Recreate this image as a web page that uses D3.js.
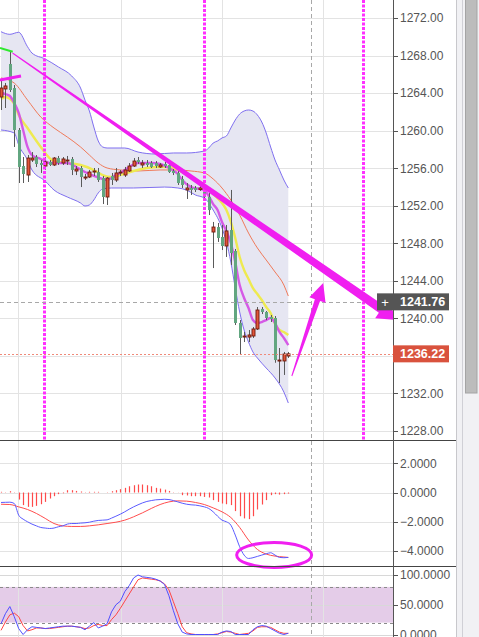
<!DOCTYPE html>
<html><head><meta charset="utf-8">
<script src="https://cdn.jsdelivr.net/npm/d3@7"></script>
<style>html,body{margin:0;padding:0;background:#fff;overflow:hidden}svg{display:block}</style>
</head><body>
<svg id="c" width="479" height="637"></svg>
<script>
// ---------- DATA ----------
const opens  = [1263.58,1264.44,1267.10,1264.54,1260.07,1256.23,1255.27,1256.87,1257.19,1256.55,1256.23,1256.66,1256.34,1257.08,1256.55,1256.82,1256.98,1255.70,1256.02,1254.95,1255.06,1255.59,1255.59,1254.95,1252.93,1255.17,1254.74,1255.49,1255.27,1255.70,1256.23,1256.87,1256.34,1256.55,1256.55,1256.55,1256.13,1256.45,1256.34,1255.70,1255.49,1254.85,1253.68,1253.89,1253.89,1253.73,1253.68,1252.93,1249.20,1249.73,1248.67,1247.71,1249.41,1247.18,1239.51,1238.01,1238.01,1238.12,1238.87,1241.00,1240.68,1240.14,1240.04,1235.46,1235.46,1235.99];
const highs  = [1265.39,1265.08,1268.38,1264.86,1260.28,1257.19,1257.40,1257.72,1257.40,1256.87,1257.19,1256.87,1257.19,1257.30,1257.19,1257.30,1257.19,1256.23,1256.23,1255.38,1255.81,1256.02,1256.02,1255.17,1255.06,1255.49,1256.02,1255.81,1256.13,1256.55,1257.08,1257.19,1256.87,1256.87,1256.76,1256.76,1256.55,1256.66,1256.55,1255.91,1255.70,1255.17,1254.42,1254.21,1254.10,1254.10,1254.21,1253.35,1250.27,1250.16,1249.95,1249.95,1253.68,1247.39,1239.82,1238.55,1238.76,1239.08,1241.21,1241.21,1240.78,1240.36,1240.25,1236.84,1236.42,1236.42];
const lows   = [1262.20,1262.41,1264.12,1258.26,1254.42,1254.42,1254.53,1256.66,1256.13,1255.49,1255.81,1256.23,1256.23,1256.34,1256.34,1256.34,1255.27,1255.27,1253.99,1254.74,1254.95,1255.17,1254.53,1252.18,1252.08,1254.21,1254.53,1255.17,1255.06,1255.59,1256.13,1256.45,1256.02,1256.13,1256.02,1256.02,1256.02,1256.02,1255.49,1255.27,1254.21,1253.89,1252.72,1253.14,1253.46,1253.57,1252.61,1251.01,1245.36,1248.14,1247.28,1246.54,1245.68,1239.29,1236.10,1237.48,1237.48,1237.91,1238.76,1240.46,1239.82,1239.61,1235.27,1233.11,1233.97,1235.78];
const closes = [1264.54,1264.76,1264.33,1260.07,1256.13,1255.38,1257.08,1257.08,1256.45,1256.34,1256.66,1256.34,1257.08,1256.55,1256.98,1256.87,1255.81,1255.91,1255.06,1255.06,1255.59,1255.70,1254.74,1252.93,1254.95,1254.74,1255.49,1255.59,1255.81,1256.23,1256.76,1256.66,1256.55,1256.34,1256.13,1256.23,1256.34,1256.23,1255.59,1255.49,1254.42,1254.21,1253.89,1253.68,1253.68,1253.89,1252.93,1251.54,1249.73,1248.56,1247.71,1249.31,1246.96,1239.51,1237.91,1238.12,1238.23,1238.87,1240.89,1240.68,1240.04,1239.93,1235.56,1235.56,1236.20,1236.22];

// overlay lines: [bar index, price]
const bbUpper = [[0,1270.54],[2,1270.26],[4,1270.48],[6,1268.94],[7,1268.27],[10,1267.63],[13,1266.78],[16,1265.82],[18,1264.54],[19,1263.26],[20,1262.09],[21,1260.39],[22,1258.90],[23,1258.26],[24,1258.15],[28,1258.15],[31,1257.72],[35,1257.51],[39,1257.62],[42,1257.62],[46,1257.83],[47,1258.15],[48,1258.68],[49,1258.90],[50,1259.22],[51,1259.43],[52,1260.28],[53,1261.13],[54,1261.77],[55,1262.09],[56,1262.20],[57,1262.09],[58,1261.67],[59,1260.92],[60,1259.75],[61,1258.26],[62,1256.87],[63,1255.81],[64,1254.74],[65,1253.89]];
const bbLower = [[0,1260.07],[3,1259.75],[4,1258.47],[6,1256.87],[7,1255.81],[10,1254.63],[12,1253.67],[15,1252.93],[18,1252.29],[19,1251.97],[20,1252.08],[21,1252.61],[22,1253.36],[23,1253.78],[25,1253.89],[30,1253.89],[37,1253.99],[40,1253.89],[42,1253.67],[44,1253.14],[46,1252.82],[48,1251.54],[50,1249.63],[51,1248.14],[52,1246.00],[53,1243.23],[54,1240.68],[55,1238.76],[56,1237.48],[57,1236.42],[58,1235.78],[60,1234.71],[62,1233.65],[64,1232.15],[65,1230.98]];
const bbMid = [[0,1265.61],[3,1265.07],[6,1263.26],[9,1261.45],[12,1260.28],[15,1259.32],[18,1258.26],[20,1257.40],[22,1256.55],[24,1256.02],[27,1255.81],[31,1255.70],[36,1255.81],[40,1255.81],[43,1255.70],[46,1255.49],[48,1254.85],[50,1253.89],[52,1252.61],[54,1251.01],[56,1249.09],[58,1247.50],[60,1246.22],[62,1244.94],[64,1243.55],[65,1242.38]];
const ma10 = [[0,1263.37],[1,1263.58],[3,1262.84],[4,1261.67],[6,1260.28],[9,1258.26],[11,1257.08],[12,1256.76],[15,1256.55],[18,1256.34],[21,1255.81],[23,1255.27],[25,1255.06],[27,1255.27],[30,1255.70],[33,1256.02],[36,1256.13],[38,1256.13],[40,1255.81],[43,1255.06],[46,1254.21],[48,1253.25],[50,1252.29],[51,1251.54],[52,1250.27],[53,1248.56],[54,1246.54],[55,1245.15],[56,1244.19],[57,1243.23],[58,1242.59],[59,1241.96],[60,1241.21],[61,1240.57],[62,1239.40],[63,1238.76],[64,1238.55],[65,1238.23]];
const ma5 = [[0,1264.01],[1,1263.90],[2,1263.69],[3,1262.94],[4,1261.88],[5,1260.07],[6,1258.26],[7,1257.40],[9,1256.98],[11,1256.55],[15,1256.55],[17,1256.13],[19,1255.59],[21,1255.17],[23,1254.85],[24,1254.74],[25,1254.95],[26,1255.27],[27,1255.49],[29,1256.13],[31,1256.55],[34,1256.55],[36,1256.45],[38,1256.02],[40,1255.38],[41,1254.74],[43,1253.99],[45,1253.78],[46,1253.67],[47,1253.04],[48,1252.18],[49,1251.54],[50,1250.27],[51,1249.31],[52,1248.03],[53,1246.00],[54,1243.55],[55,1242.17],[56,1241.10],[57,1239.82],[58,1239.50],[59,1239.61],[60,1239.82],[61,1240.04],[62,1239.50],[63,1238.55],[64,1237.91],[65,1237.16]];

const macdHist = [0.05,0.02,0.09,0.02,-0.48,-0.86,-0.98,-0.98,-0.91,-0.80,-0.64,-0.41,-0.25,-0.11,-0.05,0.16,0.16,0.11,0.07,0.02,0.05,0.05,0.05,0.00,0.02,0.09,0.16,0.23,0.32,0.43,0.50,0.55,0.55,0.50,0.43,0.32,0.27,0.20,0.11,0.02,-0.01,-0.18,-0.20,-0.25,-0.25,-0.25,-0.30,-0.34,-0.52,-0.64,-0.75,-0.80,-0.86,-1.27,-1.62,-1.77,-1.82,-1.62,-1.16,-0.82,-0.52,-0.18,-0.11,-0.14,-0.11,-0.07];
const macdLine = [-0.68,-0.67,-0.66,-0.75,-1.55,-1.82,-2.00,-2.16,-2.28,-2.39,-2.43,-2.46,-2.43,-2.34,-2.28,-2.16,-2.12,-2.12,-2.09,-2.07,-2.03,-1.96,-1.91,-1.89,-1.87,-1.75,-1.62,-1.48,-1.32,-1.14,-0.98,-0.84,-0.71,-0.61,-0.55,-0.50,-0.48,-0.46,-0.48,-0.55,-0.64,-0.73,-0.80,-0.84,-0.86,-0.91,-0.98,-1.09,-1.32,-1.62,-1.89,-2.00,-2.23,-2.91,-3.71,-4.28,-4.51,-4.46,-4.37,-4.28,-4.19,-4.12,-4.28,-4.44,-4.46,-4.44];
const macdSignal = [[0,-0.80],[2,-0.82],[4,-0.98],[6,-1.16],[8,-1.43],[10,-1.77],[12,-2.12],[14,-2.28],[16,-2.32],[18,-2.32],[20,-2.28],[22,-2.21],[24,-2.12],[26,-2.03],[28,-1.89],[30,-1.66],[32,-1.39],[34,-1.09],[36,-0.82],[38,-0.64],[40,-0.57],[42,-0.59],[44,-0.68],[46,-0.82],[48,-1.05],[50,-1.32],[52,-1.71],[54,-2.39],[56,-3.25],[58,-3.89],[60,-4.21],[62,-4.35],[64,-4.41],[65,-4.44]];

const stochK = [18,35,47,30,10,0,8,13,12,11,10,11,12,13,14,14,14,13,12,8,14,20,11,14,18,38,50,56,72,82,95,100,97,96,95,93,90,84,65,40,18,4,1,0,0,0,0,0,0,0,4,6,5,0,0,0,0,8,13,15,14,10,6,2,0,2];
const stochD = [7,21,33,36,30,15,6,8,11,11,10,10,11,12,13,14,14,13,12,10,11,15,17,15,15,25,33,44,56,68,80,92,95,94,93,92,90,85,75,55,35,13,3,1,0,0,0,0,0,1,3,5,4,2,0,1,2,6,12,13,13,12,8,4,2,2];

const priceTicks = [1228,1232,1236,1240,1244,1248,1252,1256,1260,1264,1268,1272];
const macdTicks = [-4,-2,0,2];
const stochTicks = [0,50,100];
const stochBand = [20,80];
const timeGrid = [3.85,27.05,50,72.9];
const markerLines = [9.75,45.9,81.9];
const crossIdx = 70.1, crossPrice = 1241.76, lastPrice = 1236.22;
const arrow1 = [[2.6,1268.27],[89.6,1239.83]];
const arrow2 = [[65.8,1233.86],[72.9,1243.77]];
const greenSeg = [[-0.23,1268.80],[2.65,1268.41]];
const pinkSeg = [[-0.23,1265.39],[4.52,1265.82]];
const ellipseAt = [61.8,-4.27];

// ---------- SCALES ----------
const svg = d3.select('#c');
const AX = 393;
const x  = d3.scaleLinear().domain([0,65]).range([1,288.3]);
const yP = d3.scaleLinear().domain([1228,1272]).range([431,18]);
const yM = d3.scaleLinear().domain([-4,2]).range([551,463.3]);
const yS = d3.scaleLinear().domain([0,100]).range([634.5,575]);
const FONT = '"Liberation Sans", Arial, sans-serif';

svg.append('rect').attr('width',479).attr('height',637).attr('fill','#fff');

const defs = svg.append('defs');
defs.append('clipPath').attr('id','cm').append('rect').attr('x',0).attr('y',0).attr('width',AX).attr('height',440);
defs.append('clipPath').attr('id','cd').append('rect').attr('x',0).attr('y',441).attr('width',AX).attr('height',125);
defs.append('clipPath').attr('id','cs').append('rect').attr('x',0).attr('y',567).attr('width',AX).attr('height',70);

// ---------- GRID ----------
const g = svg.append('g');
g.append('rect').attr('x',0).attr('width',AX).attr('y',yS(stochBand[1])).attr('height',yS(stochBand[0])-yS(stochBand[1])).attr('fill','#e4cce8');
priceTicks.forEach(t=>g.append('line').attr('x1',0).attr('x2',AX).attr('y1',Math.round(yP(t))+0.5).attr('y2',Math.round(yP(t))+0.5).attr('stroke','#e3e3e3'));
macdTicks.forEach(t=>g.append('line').attr('x1',0).attr('x2',AX).attr('y1',Math.round(yM(t))+0.5).attr('y2',Math.round(yM(t))+0.5).attr('stroke','#e3e3e3'));
stochTicks.forEach(t=>g.append('line').attr('x1',0).attr('x2',AX).attr('y1',Math.round(yS(t))+0.5).attr('y2',Math.round(yS(t))+0.5).attr('stroke','#d8d8d8'));
timeGrid.forEach(t=>g.append('line').attr('x1',Math.round(x(t))+0.5).attr('x2',Math.round(x(t))+0.5).attr('y1',0).attr('y2',637).attr('stroke','#e3e3e3'));
stochBand.forEach(t=>g.append('line').attr('x1',0).attr('x2',AX).attr('y1',Math.round(yS(t))+0.5).attr('y2',Math.round(yS(t))+0.5).attr('stroke','#8a8a8a').attr('stroke-dasharray','3,3'));

// ---------- MAIN PANEL ----------
const m = svg.append('g').attr('clip-path','url(#cm)');
const lineP = d3.line().x(d=>x(d[0])).y(d=>yP(d[1])).curve(d3.curveMonotoneX);
const upPath = lineP(bbUpper);
const loRev = lineP(bbLower.slice().reverse()).replace(/^M/,'L');
m.append('path').attr('d',upPath+loRev+'Z').attr('fill','#e6e6f2');

markerLines.forEach(t=>{
  const xx = Math.round(x(t))+0.5;
  svg.append('line').attr('x1',xx).attr('x2',xx).attr('y1',0).attr('y2',440).attr('stroke','#ff30ff').attr('stroke-width',3).attr('stroke-dasharray','3,1.5');
});

m.append('path').attr('d',lineP(bbUpper)).attr('fill','none').attr('stroke','#7f6ff0').attr('stroke-width',1);
m.append('path').attr('d',lineP(bbLower)).attr('fill','none').attr('stroke','#7f6ff0').attr('stroke-width',1);
m.append('path').attr('d',lineP(bbMid)).attr('fill','none').attr('stroke','#f07a5a').attr('stroke-width',1);
m.append('path').attr('d',lineP(ma10)).attr('fill','none').attr('stroke','#eeea50').attr('stroke-width',2.4);
m.append('path').attr('d',lineP(ma5)).attr('fill','none').attr('stroke','#d55ae6').attr('stroke-width',2.4);

// candles
const cg = m.append('g');
opens.forEach((o,i)=>{
  const c=closes[i], h=highs[i], l=lows[i];
  const xc = Math.round(x(i));
  cg.append('line').attr('x1',xc+0.5).attr('x2',xc+0.5).attr('y1',yP(h)).attr('y2',yP(l)).attr('stroke','#5a5a5a').attr('stroke-width',1);
  const top = yP(Math.max(o,c)), bot = yP(Math.min(o,c));
  const hgt = Math.max(1, bot-top);
  if (c >= o) {
    cg.append('rect').attr('x',xc-1).attr('y',top).attr('width',3).attr('height',hgt).attr('fill','#e2553a').attr('stroke','#6e1a0c').attr('stroke-width',0.9);
  } else {
    cg.append('rect').attr('x',xc-1).attr('y',top).attr('width',3).attr('height',hgt).attr('fill','#62a680');
  }
});

// ---------- MACD PANEL ----------
const dp = svg.append('g').attr('clip-path','url(#cd)');
macdHist.forEach((v,i)=>{
  dp.append('line').attr('x1',Math.round(x(i))+0.5).attr('x2',Math.round(x(i))+0.5).attr('y1',yM(0)).attr('y2',yM(v)).attr('stroke','#ff4a4a').attr('stroke-width',1.2);
});
const lineM = d3.line().x(d=>x(d[0])).y(d=>yM(d[1])).curve(d3.curveMonotoneX);
dp.append('path').attr('d',lineM(macdSignal)).attr('fill','none').attr('stroke','#ff4d4d').attr('stroke-width',1);
dp.append('path').attr('d',lineM(macdLine.map((v,i)=>[i,v]))).attr('fill','none').attr('stroke','#5b5bff').attr('stroke-width',1);

// ---------- STOCH PANEL ----------
const sp = svg.append('g').attr('clip-path','url(#cs)');
const lineS = d3.line().x((d,i)=>x(i)).y(d=>yS(d));
sp.append('path').attr('d',lineS(stochD)).attr('fill','none').attr('stroke','#ff4444').attr('stroke-width',1);
sp.append('path').attr('d',lineS(stochK)).attr('fill','none').attr('stroke','#4f4fff').attr('stroke-width',1);

// ---------- CROSSHAIR / LAST PRICE ----------
svg.append('line').attr('x1',Math.round(x(crossIdx))+0.5).attr('x2',Math.round(x(crossIdx))+0.5).attr('y1',0).attr('y2',637).attr('stroke','#a8a8a8').attr('stroke-dasharray','4,3');
svg.append('line').attr('x1',0).attr('x2',AX).attr('y1',Math.round(yP(crossPrice))+0.5).attr('y2',Math.round(yP(crossPrice))+0.5).attr('stroke','#a8a8a8').attr('stroke-dasharray','4,3');
svg.append('line').attr('x1',0).attr('x2',AX).attr('y1',Math.round(yP(lastPrice))+0.5).attr('y2',Math.round(yP(lastPrice))+0.5).attr('stroke','#f08a7a').attr('stroke-dasharray','2,2');

// ---------- ANNOTATIONS ----------
function taper(a,b,w0,w1,hl,hh){
  const x0=x(a[0]),y0=yP(a[1]),x1=x(b[0]),y1=yP(b[1]);
  const L=Math.hypot(x1-x0,y1-y0), ux=(x1-x0)/L, uy=(y1-y0)/L, nx=-uy, ny=ux;
  const bx=x1-hl*ux, by=y1-hl*uy;
  const P=[[x0+nx*w0/2,y0+ny*w0/2],[bx+nx*w1/2,by+ny*w1/2],[bx+nx*hh,by+ny*hh],[x1,y1],[bx-nx*hh,by-ny*hh],[bx-nx*w1/2,by-ny*w1/2],[x0-nx*w0/2,y0-ny*w0/2]];
  return 'M'+P.map(p=>p.join(',')).join('L')+'Z';
}
svg.append('path').attr('d',taper(arrow1[0],arrow1[1],1,9,19,11)).attr('fill','#f01ff0');
svg.append('path').attr('d',taper(arrow2[0],arrow2[1],1,5.5,18,8.5)).attr('fill','#f01ff0');
svg.append('line').attr('x1',x(greenSeg[0][0])).attr('y1',yP(greenSeg[0][1])).attr('x2',x(greenSeg[1][0])).attr('y2',yP(greenSeg[1][1])).attr('stroke','#2fe82f').attr('stroke-width',2);
svg.append('line').attr('x1',x(pinkSeg[0][0])).attr('y1',yP(pinkSeg[0][1])).attr('x2',x(pinkSeg[1][0])).attr('y2',yP(pinkSeg[1][1])).attr('stroke','#f01ff0').attr('stroke-width',3);
svg.append('ellipse').attr('cx',x(ellipseAt[0])).attr('cy',yM(ellipseAt[1])).attr('rx',37.5).attr('ry',12.5).attr('fill','none').attr('stroke','#f01ff0').attr('stroke-width',3);

// ---------- RIGHT SIDE ----------
svg.append('rect').attr('x',AX+1).attr('y',0).attr('width',63).attr('height',637).attr('fill','#fff');
svg.append('rect').attr('x',457).attr('y',0).attr('width',22).attr('height',637).attr('fill','#f1f1f4');
svg.append('line').attr('x1',456.5).attr('x2',456.5).attr('y1',0).attr('y2',637).attr('stroke','#c8c8cc');
svg.append('line').attr('x1',462.5).attr('x2',462.5).attr('y1',0).attr('y2',637).attr('stroke','#d0d0d6');
svg.append('rect').attr('x',465.5).attr('y',-1).attr('width',11.5).attr('height',394).attr('fill','#bcbcbc').attr('stroke','#a4a4a4');

[440.5,566.5].forEach(yy=>svg.append('line').attr('x1',0).attr('x2',456).attr('y1',yy).attr('y2',yy).attr('stroke','#444'));
svg.append('line').attr('x1',AX+0.5).attr('x2',AX+0.5).attr('y1',0).attr('y2',637).attr('stroke','#555');

const fmt2 = d3.format('.2f'), fmt4 = d3.format('.4f');
const tagPrices = [crossPrice, lastPrice];
function tick(yv,label,showLabel){
  svg.append('line').attr('x1',AX).attr('x2',AX+5).attr('y1',Math.round(yv)+0.5).attr('y2',Math.round(yv)+0.5).attr('stroke','#555');
  if (showLabel) svg.append('text').attr('x',400).attr('y',yv).attr('dy','0.36em').attr('font-family',FONT).attr('font-size',12).attr('fill','#555').text(label);
}
priceTicks.forEach(t=>tick(yP(t),fmt2(t), tagPrices.every(p=>Math.abs(yP(p)-yP(t))>14)));
macdTicks.forEach(t=>tick(yM(t),fmt4(t),true));
stochTicks.forEach(t=>tick(yS(t),fmt4(t),true));

function tag(price,fill){
  const yy=yP(price);
  svg.append('rect').attr('x',AX).attr('y',yy-8.5).attr('width',56).attr('height',17).attr('fill',fill);
  svg.append('text').attr('x',400).attr('y',yy).attr('dy','0.36em').attr('font-family',FONT).attr('font-size',12.5).attr('font-weight','bold').attr('fill','#fff').text(fmt2(price));
}
tag(crossPrice,'#555555');
tag(lastPrice,'#d9523d');
svg.append('rect').attr('x',377).attr('y',yP(crossPrice)-8.5).attr('width',16).attr('height',17).attr('fill','#555');
svg.append('text').attr('x',385).attr('y',yP(crossPrice)).attr('dy','0.36em').attr('text-anchor','middle').attr('font-family',FONT).attr('font-size',13).attr('fill','#fff').text('+');
</script>
</body></html>
